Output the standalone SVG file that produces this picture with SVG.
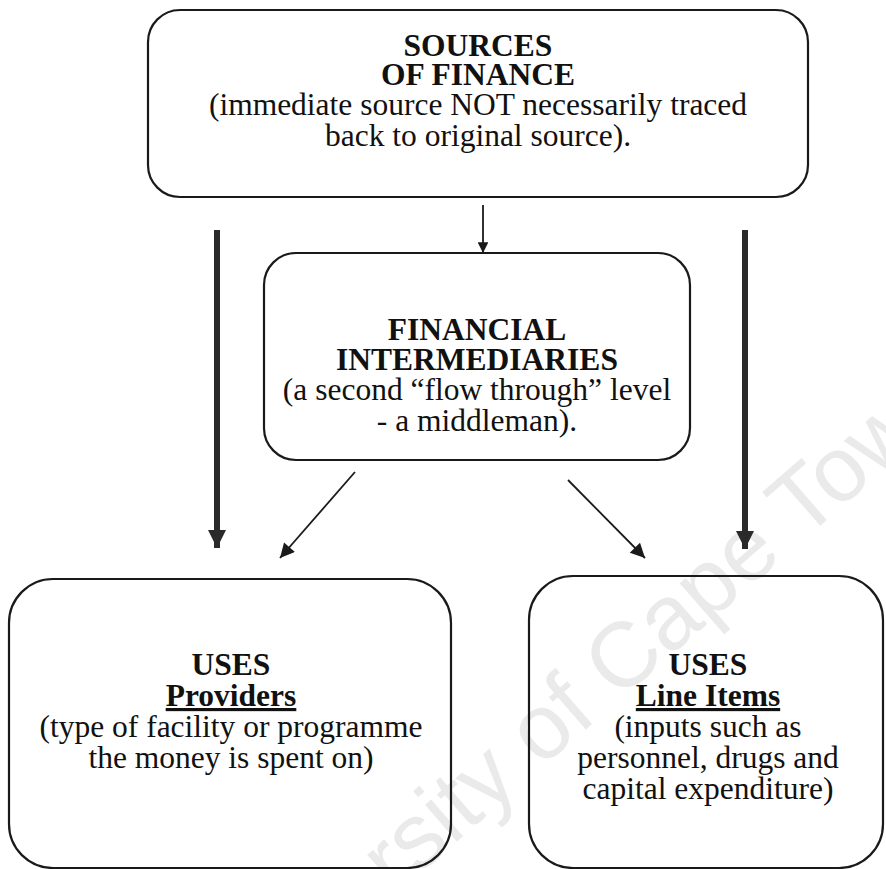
<svg xmlns="http://www.w3.org/2000/svg" width="886" height="869" viewBox="0 0 886 869">
<style>
  .box { fill: none; stroke: #1a1a1a; stroke-width: 2.2; }
  .t { font-family: "Liberation Serif", "Times New Roman", serif; font-size: 31.5px; fill: #111; text-anchor: middle; }
  .b { font-weight: bold; }
  .u { font-weight: bold; text-decoration: underline; }
  .wm { font-family: "Liberation Sans", Arial, sans-serif; font-size: 92px; fill: #eaeaea; }
  .thin { stroke: #1a1a1a; stroke-width: 1.8; fill: none; }
  .thick { stroke: #2a2a2a; stroke-width: 6; fill: none; }
</style>
<defs>
  <marker id="hs" viewBox="0 0 10 10" refX="10" refY="5" markerWidth="7" markerHeight="6" markerUnits="strokeWidth" orient="auto">
    <path d="M0,0 L10,5 L0,10 Z" fill="#1a1a1a"/>
  </marker>
  <marker id="hm" viewBox="0 0 10 10" refX="10" refY="5" markerWidth="9" markerHeight="8" markerUnits="strokeWidth" orient="auto">
    <path d="M0,0 L10,5 L0,10 Z" fill="#1a1a1a"/>
  </marker>
  <marker id="hl" viewBox="0 0 10 10" refX="10" refY="5" markerWidth="3.2" markerHeight="3" markerUnits="strokeWidth" orient="auto">
    <path d="M0,0 L10,5 L0,10 Z" fill="#2a2a2a"/>
  </marker>
</defs>
<rect width="886" height="869" fill="#fff"/>
<text class="wm" x="217" y="1050" transform="rotate(-41 217 1050)">University of Cape Town</text>

<g id="sources">
  <rect class="box" x="148" y="10" width="660" height="187" rx="32"/>
  <text class="t b" x="478" y="56">SOURCES</text>
  <text class="t b" x="478" y="85">OF FINANCE</text>
  <text class="t" x="478" y="115">(immediate source NOT necessarily traced</text>
  <text class="t" x="478" y="146">back to original source).</text>
</g>

<g id="intermediaries">
  <rect class="box" x="264" y="253" width="426" height="207" rx="32"/>
  <text class="t b" x="477" y="340">FINANCIAL</text>
  <text class="t b" x="477" y="370">INTERMEDIARIES</text>
  <text class="t" x="477" y="400">(a second “flow through” level</text>
  <text class="t" x="477" y="431">- a middleman).</text>
</g>

<g id="providers">
  <rect class="box" x="9" y="579" width="442" height="289" rx="44"/>
  <text class="t b" x="231" y="675">USES</text>
  <text class="t u" x="231" y="706">Providers</text>
  <text class="t" x="231" y="737">(type of facility or programme</text>
  <text class="t" x="231" y="768">the money is spent on)</text>
</g>

<g id="lineitems">
  <rect class="box" x="529" y="576" width="354" height="292" rx="44"/>
  <text class="t b" x="708" y="675">USES</text>
  <text class="t u" x="708" y="706">Line Items</text>
  <text class="t" x="708" y="737">(inputs such as</text>
  <text class="t" x="708" y="768">personnel, drugs and</text>
  <text class="t" x="708" y="799">capital expenditure)</text>
</g>

<g id="connectors">
  <line class="thin" x1="483" y1="205" x2="483" y2="253" marker-end="url(#hs)"/>
  <line class="thick" x1="217" y1="230" x2="217" y2="548" marker-end="url(#hl)"/>
  <line class="thick" x1="745" y1="230" x2="745" y2="549" marker-end="url(#hl)"/>
  <line class="thin" x1="355" y1="472" x2="280" y2="558" marker-end="url(#hm)"/>
  <line class="thin" x1="568" y1="480" x2="645" y2="558" marker-end="url(#hm)"/>
</g>
</svg>
